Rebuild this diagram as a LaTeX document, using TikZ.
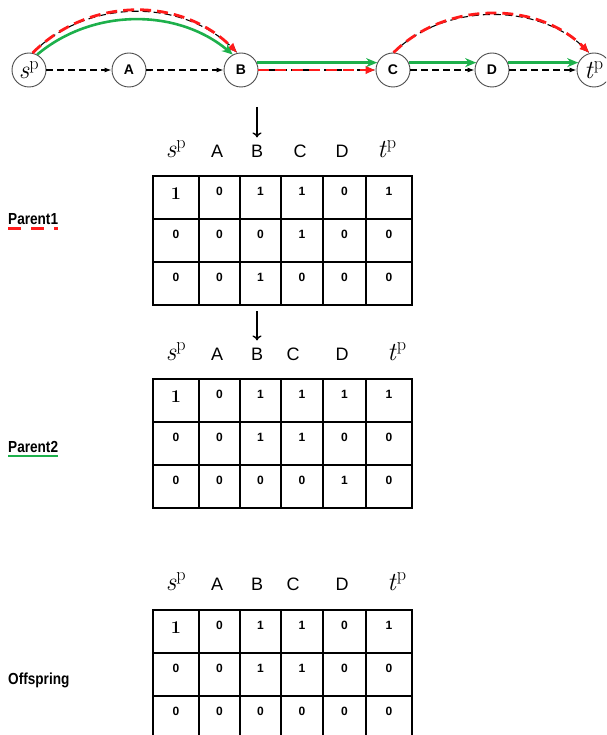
\documentclass[tikz,border=0pt]{standalone}
\usepackage{fontspec}
\setsansfont{Liberation Sans}
\newfontfamily\narrowsans[FakeStretch=0.85]{Liberation Sans}
\usepackage{tikz}
\usetikzlibrary{arrows.meta,positioning}
\definecolor{PathGreen}{HTML}{1DB04B}
\definecolor{PathRed}{HTML}{FF1A1A}
\newcommand{\srcp}{{\rmfamily\mdseries\fontsize{26}{26}\selectfont\textit{s}\textsuperscript{p}}}
\newcommand{\snkp}{{\rmfamily\mdseries\fontsize{26}{26}\selectfont\textit{t}\textsuperscript{p}}}
\newcommand{\bigone}{{\rmfamily\fontsize{18}{18}\selectfont 1}}

\begin{document}
\begin{tikzpicture}[x=1pt, y=-1pt,
  vtx/.style={circle, draw=black!70, line width=0.9pt, fill=white, minimum size=34pt,
              inner sep=0pt, font=\sffamily\bfseries\fontsize{14}{14}\selectfont},
  darr/.style={-{Latex[length=7pt,width=5pt]}, dash pattern=on 7pt off 4pt, line width=1.1pt, black},
  garr/.style={-{Stealth[length=11pt,width=9pt]}, line width=2.6pt, PathGreen},
  rarr/.style={-{Latex[length=10pt,width=9pt]}, dash pattern=on 11pt off 6pt, line width=2.8pt, PathRed},
  hdr/.style={font=\sffamily\fontsize{18}{18}\selectfont, inner sep=1pt, anchor=base},
  cell/.style={font=\sffamily\bfseries\fontsize{12}{12}\selectfont, inner sep=0pt, anchor=north},
  grid/.style={line width=2pt, black},
  tag/.style={font=\narrowsans\bfseries\fontsize{16}{16}\selectfont, anchor=base west, inner sep=0pt},
  pick/.style={-{To[length=5pt,width=9pt]}, line width=1.4pt},
]
  \useasboundingbox (0,0) rectangle (606,735);
  \clip (0,0) rectangle (606,735);

  % Path graph
  \node[vtx] (sp) at (29,70) {\srcp};
  \node[vtx] (A) at (129,70) {A};
  \node[vtx] (B) at (241,70) {B};
  \node[vtx] (C) at (393,70) {C};
  \node[vtx] (D) at (492,70) {D};
  \node[vtx] (tp) at (594,70) {\snkp};

  % Arcs
  \draw[darr] (sp.78) to[bend left=45, looseness=0.97] (B.102);
  \draw[rarr] (sp.78) to[bend left=45, looseness=1.0] (B.102);
  \draw[garr] (sp.62) to[bend left=40, looseness=0.95] (B.118);
  \draw[darr] (C.88) to[bend left=45, looseness=0.93] (tp.105);
  \draw[rarr] (C.88) to[bend left=45, looseness=0.96] (tp.105);

  % Straight edges
  \draw[darr] (sp) -- (A);
  \draw[darr] (A) -- (B);
  \draw[darr] (B) -- (C);
  \draw[rarr] (B) -- (C);
  \draw[garr] (B.25) -- (C.155);
  \draw[darr] (C) -- (D);
  \draw[garr] (C.25) -- (D.155);
  \draw[darr] (D) -- (tp);
  \draw[garr] (D.25) -- (tp.155);

  % Parent1 table
  \node[tag] (par1) at (8,224) {Parent1};
  \draw[PathRed, line width=3.5pt, dash pattern=on 13pt off 10pt]
    ([yshift=-4.5pt]par1.base west) -- ([yshift=-4.5pt]par1.base east);
  \foreach \lbl/\xx/\nm in {\srcp/176/sp, A/217/A, B/257/B, C/300/C, D/342/D, \snkp/387/tp}
    \node[hdr] (ha\nm) at (\xx,158) {\lbl};
  \coordinate (ka) at (257,107);
  \draw[pick] (ka) -- ([yshift=7pt]haB.north);
  \draw[grid] (153,176) rectangle (412,305);
  \foreach \xx in {199,240,281,323,366} \draw[grid] (\xx,176) -- (\xx,305);
  \foreach \yy in {219,262} \draw[grid] (153,\yy) -- (412,\yy);
  \foreach \row [count=\r] in {{\bigone,0,1,1,0,1},{0,0,0,1,0,0},{0,0,1,0,0,0}}
    \foreach \v [count=\c] in \row {
      \pgfmathsetmacro{\xx}{{176,219.5,260.5,302,344.5,389}[\c-1]}
      \node[cell] (pa-\r-\c) at (\xx,{176+43*(\r-1)+11}) {\v};
    }

  % Parent2 table
  \node[tag] (par2) at (8,452) {Parent2};
  \draw[PathGreen, line width=2.6pt]
    ([yshift=-4pt]par2.base west) -- ([yshift=-4pt]par2.base east);
  \foreach \lbl/\xx/\nm in {\srcp/176/sp, A/217/A, B/257/B, C/293/C, D/342/D, \snkp/397/tp}
    \node[hdr] (hb\nm) at (\xx,360) {\lbl};
  \coordinate (kb) at (257,311);
  \draw[pick] (kb) -- ([yshift=6pt]hbB.north);
  \draw[grid] (153,379) rectangle (412,508);
  \foreach \xx in {199,240,281,323,366} \draw[grid] (\xx,379) -- (\xx,508);
  \foreach \yy in {422,465} \draw[grid] (153,\yy) -- (412,\yy);
  \foreach \row [count=\r] in {{\bigone,0,1,1,1,1},{0,0,1,1,0,0},{0,0,0,0,1,0}}
    \foreach \v [count=\c] in \row {
      \pgfmathsetmacro{\xx}{{176,219.5,260.5,302,344.5,389}[\c-1]}
      \node[cell] (pb-\r-\c) at (\xx,{379+43*(\r-1)+11}) {\v};
    }

  % Offspring table
  \node[tag] (off) at (8,684) {Offspring};
  \foreach \lbl/\xx/\nm in {\srcp/176/sp, A/217/A, B/257/B, C/293/C, D/342/D, \snkp/397/tp}
    \node[hdr] (hc\nm) at (\xx,590) {\lbl};
  \draw[grid] (153,610) rectangle (412,739);
  \foreach \xx in {199,240,281,323,366} \draw[grid] (\xx,610) -- (\xx,739);
  \foreach \yy in {653,696} \draw[grid] (153,\yy) -- (412,\yy);
  \foreach \row [count=\r] in {{\bigone,0,1,1,0,1},{0,0,1,1,0,0},{0,0,0,0,0,0}}
    \foreach \v [count=\c] in \row {
      \pgfmathsetmacro{\xx}{{176,219.5,260.5,302,344.5,389}[\c-1]}
      \node[cell] (pc-\r-\c) at (\xx,{610+43*(\r-1)+11}) {\v};
    }
\end{tikzpicture}
\end{document}
